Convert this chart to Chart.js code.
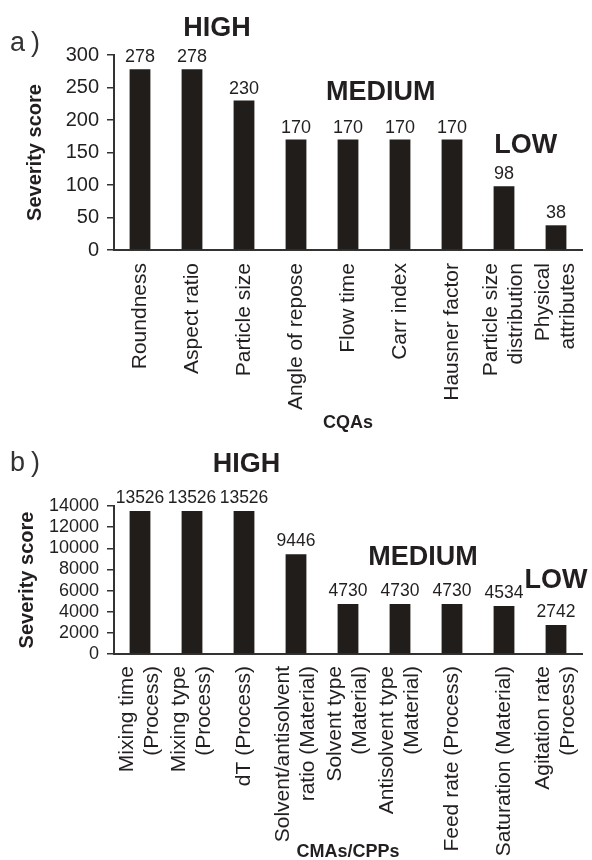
<!DOCTYPE html>
<html><head><meta charset="utf-8">
<script src="https://cdn.jsdelivr.net/npm/chart.js@4.4.1/dist/chart.umd.min.js"></script>
<style>
html,body{margin:0;padding:0;background:#fff;}
body{width:592px;height:860px;position:relative;overflow:hidden;}
#wa{position:absolute;left:0;top:0;width:592px;height:440px;}
#wb{position:absolute;left:0;top:440px;width:592px;height:420px;}
</style></head><body>
<div id="wa"><canvas id="ca"></canvas></div>
<div id="wb"><canvas id="cb"></canvas></div>
<script>
// ---------- data ----------
const categoriesA = ['Roundness', 'Aspect ratio', 'Particle size', 'Angle of repose', 'Flow time',
  'Carr index', 'Hausner factor', ['Particle size', 'distribution'], ['Physical', 'attributes']];
const scoresA = [278, 278, 230, 170, 170, 170, 170, 98, 38];
const yTicksA = [0, 50, 100, 150, 200, 250, 300];
const levelsA = ['HIGH', 'MEDIUM', 'LOW'];

const categoriesB = [['Mixing time', '(Process)'], ['Mixing type', '(Process)'], 'dT (Process)',
  ['Solvent/antisolvent', 'ratio (Material)'], ['Solvent type', '(Material)'],
  ['Antisolvent type', '(Material)'], 'Feed rate (Process)', 'Saturation (Material)',
  ['Agitation rate', '(Process)']];
const scoresB = [13526, 13526, 13526, 9446, 4730, 4730, 4730, 4534, 2742];
const yTicksB = [0, 2000, 4000, 6000, 8000, 10000, 12000, 14000];
const levelsB = ['HIGH', 'MEDIUM', 'LOW'];

// ---------- layout / styling (not data) ----------
const FAM = '"Liberation Sans", Arial, Helvetica, sans-serif';
const INK = '#231f20';
const BAR = '#211d1b';
const levelPlaceA = [{ i: 1.48, v: 329 }, { i: 4.63, v: 231 }, { i: 7.42, v: 149 }];
const levelPlaceB = [{ i: 2.05, v: 17216 }, { i: 5.44, v: 8419 }, { i: 8.0, v: 6243 }];

function marksPlugin(values, levels, place, letter, letterY, gap, valSize) {
  return {
    id: 'marks',
    beforeDraw(chart) {
      const xs = chart.scales.x;
      const items = xs.getLabelItems(chart.chartArea);
      items.forEach(it => {
        if (it._fixed) return;
        it._fixed = true;
        const n = Array.isArray(it.label) ? it.label.length : 1;
        it.options.translation[0] -= (n - 1) * it.font.lineHeight / 2;
      });
    },
    afterDatasetsDraw(chart) {
      const ctx = chart.ctx;
      const xs = chart.scales.x, ys = chart.scales.y;
      ctx.save();
      ctx.fillStyle = INK;
      ctx.textAlign = 'center';
      ctx.textBaseline = 'alphabetic';
      ctx.font = valSize + 'px ' + FAM;
      chart.getDatasetMeta(0).data.forEach((el, i) => {
        ctx.fillText(String(values[i]), el.x, el.y - gap);
      });
      ctx.font = 'bold 27px ' + FAM;
      levels.forEach((t, k) => {
        ctx.fillText(t, xs.getPixelForValue(place[k].i), ys.getPixelForValue(place[k].v));
      });
      ctx.textAlign = 'left';
      ctx.font = '27px ' + FAM;
      ctx.fillStyle = '#333';
      if ('letterSpacing' in ctx) ctx.letterSpacing = '6px';
      ctx.fillText(letter, 10, letterY);
      ctx.restore();
    }
  };
}

function makeChart(id, cats, vals, ticks, L) {
  return new Chart(document.getElementById(id), {
    type: 'bar',
    data: {
      labels: cats,
      datasets: [{ data: vals, backgroundColor: BAR, borderWidth: 0,
        barPercentage: 0.4, categoryPercentage: 1.0 }]
    },
    options: {
      responsive: true, maintainAspectRatio: false, animation: false,
      events: [],
      layout: { padding: { left: 0, right: 10, top: L.top, bottom: 0 } },
      plugins: { legend: { display: false }, tooltip: { enabled: false } },
      scales: {
        x: {
          afterFit: s => { s.height = L.height - L.bottom; s.paddingLeft = 0; s.paddingRight = 0; },
          grid: { display: false, drawTicks: false, drawOnChartArea: false },
          border: { display: true, color: '#333', width: 2 },
          ticks: { autoSkip: false, minRotation: 90, maxRotation: 90, padding: L.xPad,
            font: { size: 21, family: FAM, lineHeight: 1.2 }, color: INK },
          title: { display: true, text: L.xTitle, color: INK,
            font: { size: 18, weight: 'bold', family: FAM },
            padding: { top: 0, bottom: L.xTitlePad } }
        },
        y: {
          min: 0, max: ticks[ticks.length - 1],
          afterBuildTicks: s => { s.ticks = ticks.map(v => ({ value: v })); },
          afterFit: s => { s.width = 114; },
          grid: { display: true, drawOnChartArea: false, drawTicks: true, tickLength: 7,
            color: '#333', lineWidth: 1.5 },
          border: { display: true, color: '#333', width: 2 },
          ticks: { autoSkip: false, callback: v => String(v), padding: 8, color: INK,
            font: { size: L.yTickSize, family: FAM } },
          title: { display: true, text: 'Severity score', color: INK,
            font: { size: 20, weight: 'bold', family: FAM },
            padding: { top: L.yTitlePad, bottom: 0 } }
        }
      }
    },
    plugins: [marksPlugin(vals, L.levels, L.place, L.letter, L.letterY, L.gap, L.valSize)]
  });
}

makeChart('ca', categoriesA, scoresA, yTicksA, {
  top: 55, bottom: 250, height: 440, xPad: 13, xTitle: 'CQAs', xTitlePad: 6,
  yTickSize: 20, yTitlePad: 23, levels: levelsA, place: levelPlaceA,
  letter: 'a)', letterY: 51, gap: 7, valSize: 18
});
makeChart('cb', categoriesB, scoresB, yTicksB, {
  top: 66, bottom: 214, height: 420, xPad: 12, xTitle: 'CMAs/CPPs', xTitlePad: -3,
  yTickSize: 18, yTitlePad: 15, levels: levelsB, place: levelPlaceB,
  letter: 'b)', letterY: 31, gap: 8, valSize: 17.5
});
</script>
</body></html>
